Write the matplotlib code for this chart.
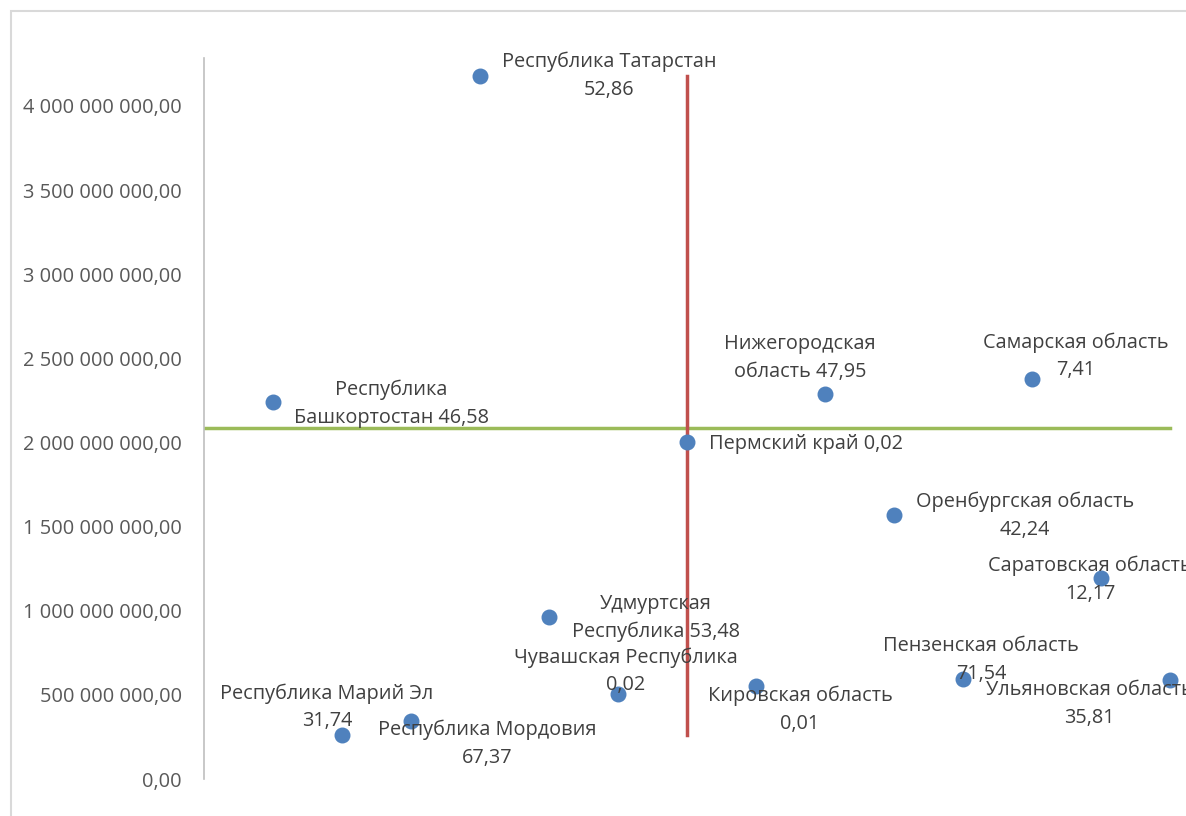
import matplotlib as mpl
mpl.use('Agg')
import matplotlib.pyplot as plt
from matplotlib.ticker import FuncFormatter, MultipleLocator
from matplotlib.patches import Rectangle

mpl.rcParams['font.family'] = ['Open Sans', 'DejaVu Sans']
mpl.rcParams['font.size'] = 10

# regions of the Volga federal district
regions = ['Республика\nБашкортостан', 'Республика Марий Эл', 'Республика Мордовия',
           'Республика Татарстан', 'Удмуртская\nРеспублика', 'Чувашская Республика',
           'Пермский край', 'Кировская область', 'Нижегородская\nобласть',
           'Оренбургская область', 'Пензенская область', 'Самарская область',
           'Саратовская область', 'Ульяновская область']
xpos = list(range(1, 15))
amount = [2.241e9, 0.260e9, 0.345e9, 4.180e9, 0.963e9, 0.505e9, 2.003e9,
          0.553e9, 2.288e9, 1.569e9, 0.594e9, 2.377e9, 1.195e9, 0.588e9]
share = ['46,58', '31,74', '67,37', '52,86', '53,48', '0,02', '0,02',
         '0,01', '47,95', '42,24', '71,54', '7,41', '12,17', '35,81']
# separator for the value part: same line or next line
sep = [' ', '\n', '\n', '\n', ' ', '\n', ' ', '\n', ' ', '\n', '\n', '\n', '\n', '\n']

# quadrant lines
hline_x = [0, 14]
hline_y = [2.086e9, 2.086e9]
vline_x = [7, 7]
vline_y = [min(amount), max(amount)]

# label offsets in pixels (right, up)
offs = [(118, -2), (-15, 28), (76, -23), (129, 0), (107, -1), (8, 23), (119, -2),
        (44, -24), (-25, 36), (131, -1), (18, 19), (44, 23), (-11, -2), (-81, -24)]

fig = plt.figure(figsize=(11.86, 8.16), dpi=100)
ax = fig.add_axes([204 / 1186, 37 / 816, 1035 / 1186, 721 / 816])

ax.plot(hline_x, hline_y, color='#9BBB59', lw=2.5, zorder=1)
ax.plot(vline_x, vline_y, color='#C0504D', lw=2.5, zorder=1)
ax.scatter(xpos, amount, s=110, color='#4F81BD', zorder=3, clip_on=False)

for x, y, name, s, sp, (dx, dy) in zip(xpos, amount, regions, share, sep, offs):
    ax.annotate(name + sp + s, (x, y), xytext=(dx, dy), textcoords='offset pixels',
                ha='center', va='center', multialignment='center',
                fontsize=14.3, color='#404040', linespacing=1.5, zorder=4,
                annotation_clip=False)

ax.set_xlim(0, 15)
ax.set_ylim(0, 4.285e9)
ax.yaxis.set_major_locator(MultipleLocator(5e8))
ax.yaxis.set_major_formatter(FuncFormatter(
    lambda v, p: f'{v:,.2f}'.replace(',', ' ').replace('.', ',')))
ax.tick_params(axis='y', length=0, pad=16, labelsize=14.4, labelcolor='#595959')
ax.set_xticks([])
for side in ['top', 'right', 'bottom']:
    ax.spines[side].set_visible(False)
ax.spines['left'].set_color('#BFBFBF')
ax.spines['left'].set_linewidth(1.2)

fig.patches.append(Rectangle((11 / 1186, -0.5), 2, 0.5 + 1 - 11 / 816, fill=False,
                             edgecolor='#D9D9D9', lw=1.5, transform=fig.transFigure))

fig.savefig('out.png', dpi=100)
